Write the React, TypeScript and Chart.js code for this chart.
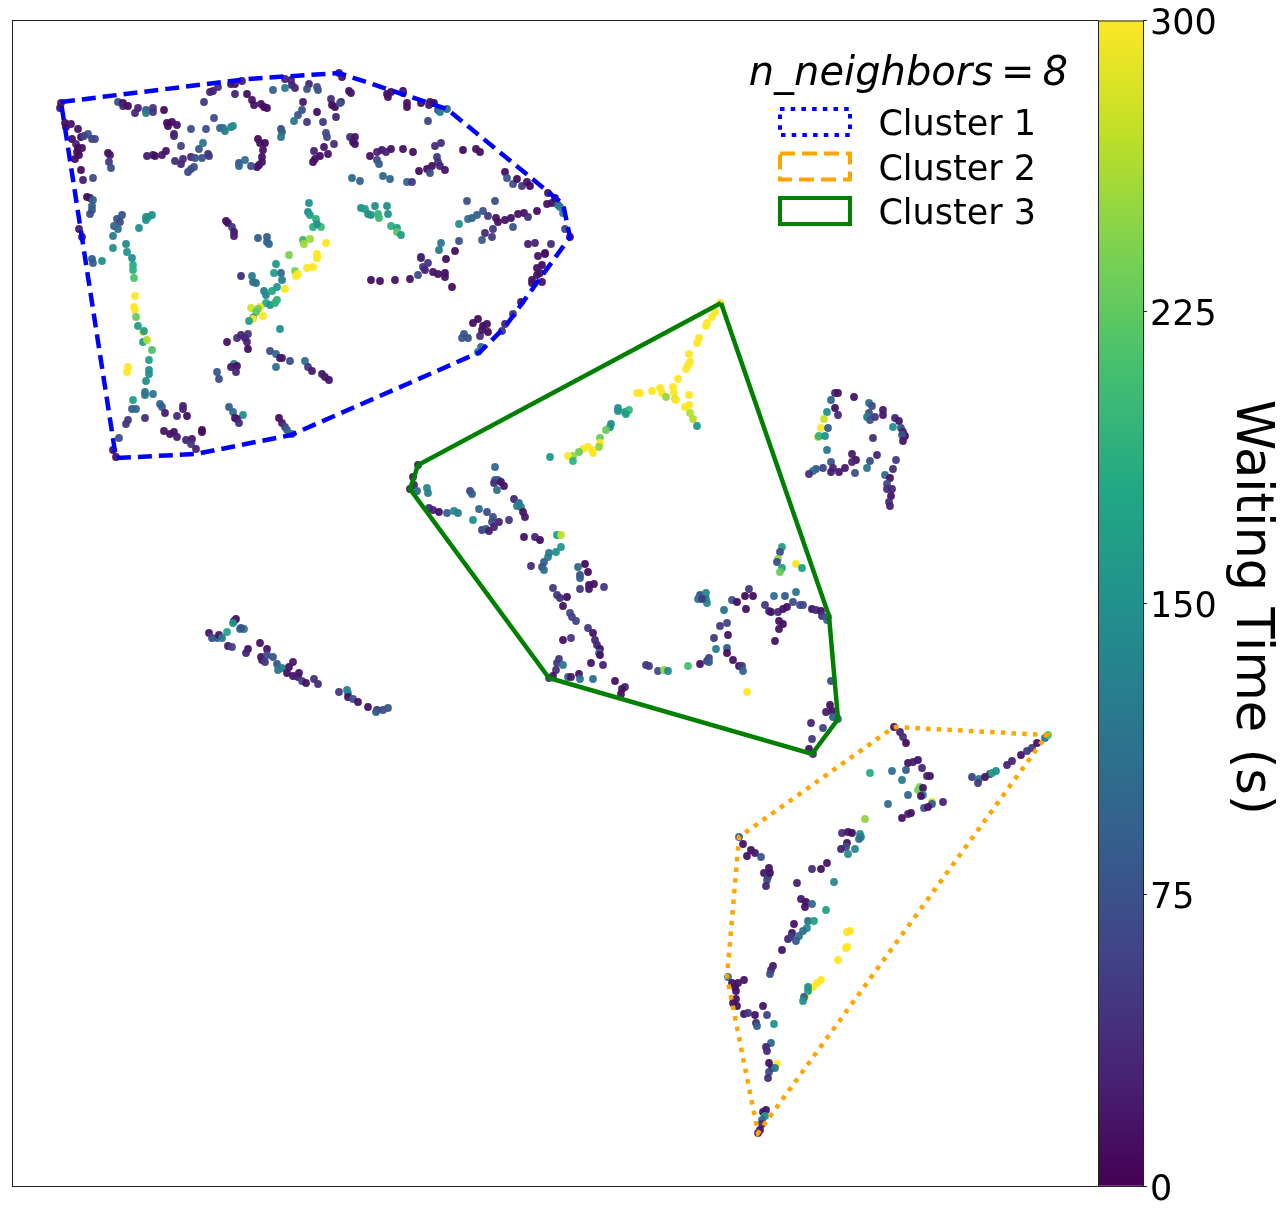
import React, { useEffect, useRef } from "react";
import { Chart, registerables } from "chart.js";

Chart.register(...registerables);

// Each entry: [embedding x, embedding y, waiting time in seconds]
const cluster1TopLeft = [
  [61,103,15],[60,108,15],[118,102,70],[123,103,10],[123,106,30],[128,106,10],[138,108,30],[135,113,35],[146,110,80],[146,113,130],[153,108,50],[153,112,45],[164,110,10],[167,123,10],[172,122,10],[168,126,10],[177,125,20],[174,134,30],[174,136,35],[191,129,75],[206,129,75],[214,118,70],[204,102,50],[210,92,30],[213,91,30],[218,87,40],[231,84,10],[235,84,15],[242,81,25],[235,94,30],[247,94,10],[252,100,15],[254,105,15],[261,104,15],[264,107,10],[267,108,10],[273,90,90],[285,88,130],[285,79,30],[291,80,30],[292,85,30],[295,88,35],[303,102,20],[307,122,50],[302,110,75],[298,115,80],[294,121,120],[281,129,70],[282,132,90],[281,137,120],
  [65,123,10],[66,127,10],[71,124,15],[78,129,15],[72,139,10],[81,137,10],[88,134,85],[84,136,60],[92,139,60],[95,139,70],[76,144,30],[78,148,10],[82,148,15],[79,155,10],[75,159,10],[77,152,10],[108,153,10],[110,155,20],[109,162,50],[111,168,70],[81,170,10],[83,180,25],[93,178,70],[87,197,10],[90,198,15],[93,200,100],[92,206,90],[92,210,90],[90,214,70],[79,229,20],[82,237,20],
  [147,156,25],[153,155,25],[155,156,15],[162,155,20],[166,151,15],[181,146,60],[175,161,40],[181,164,30],[183,159,35],[191,157,30],[195,158,75],[199,149,80],[203,143,120],[202,158,80],[208,154,50],[209,156,50],[194,167,75],[191,169,75],[188,172,70],
  [220,128,100],[223,128,110],[225,131,130],[231,127,140],[233,126,145],[258,139,10],[260,143,15],[265,143,10],[263,150,15],[262,157,15],[262,162,15],[257,167,10],[259,165,15],[251,166,70],[239,163,80],[239,166,100],[245,160,110],
  [226,221,15],[228,223,15],[232,227,50],[234,232,20],[234,236,25],[258,238,90],[267,237,90],[267,242,90],[269,244,100],[122,215,70],[117,219,80],[120,222,70],[114,226,100],[118,229,110],[113,236,130],[126,244,140],[113,248,150],[127,252,155],[132,258,150],[92,259,90],[102,261,150],[146,217,155],[148,217,160],[152,215,150],[146,220,150],[139,228,150],
];

const cluster1TopRight = [
  [339,73,30],[342,77,15],[309,84,35],[317,87,70],[307,89,75],[318,90,80],[349,91,15],[351,93,20],[387,94,15],[391,92,10],[388,97,15],[403,91,10],[403,93,35],[407,103,15],[407,107,15],[421,103,10],[430,102,15],[429,105,25],[434,103,10],[438,110,60],[440,112,130],[447,109,100],[428,121,60],
  [331,99,40],[332,105,10],[335,107,10],[341,102,20],[340,103,80],[317,112,10],[336,117,30],[323,122,50],[326,133,70],[327,137,70],[334,144,40],[324,147,20],[314,151,30],[328,154,15],[320,156,10],[315,159,15],[313,162,10],[350,137,40],[355,137,15],[353,142,15],[355,144,15],
  [370,156,15],[377,152,30],[382,150,20],[386,152,30],[391,149,15],[403,149,15],[413,152,10],[377,160,70],[379,164,85],[352,178,100],[360,181,100],[383,176,100],[390,179,100],[407,182,100],[412,182,50],[435,146,40],[441,143,40],[463,150,10],[476,149,15],[480,152,10],[437,157,50],[438,162,45],[440,166,30],[432,166,15],[427,169,15],[419,171,10],[445,170,15],[430,173,70],
  [505,172,10],[507,178,80],[513,184,75],[517,179,10],[522,186,50],[527,182,15],[530,186,10],[548,193,15],[547,204,15],[552,203,10],[555,198,10],[558,205,90],[563,213,130],[565,229,60],[570,237,15],[560,207,130],[467,201,75],[495,201,75],[483,211,80],[477,215,90],[468,219,110],[472,218,100],[459,224,145],[488,216,50],[496,218,15],[498,222,15],[505,220,15],[511,218,15],[518,214,15],[524,213,15],[528,217,40],[537,211,10],[513,227,80],
  [485,233,35],[493,229,50],[492,237,50],[482,240,90],[459,241,75],[441,243,120],[439,250,120],[455,251,10],[421,257,30],[446,259,10],[528,244,25],[535,243,30],[551,244,40],[545,254,15],[538,256,15],
  [309,203,150],[308,212,140],[310,215,170],[316,219,190],[313,227,190],[321,227,205],[317,224,150],[303,240,200],[310,239,255],[304,244,255],[326,243,300],[317,254,300],[317,258,300],[361,208,150],[365,209,165],[368,214,150],[371,215,155],[375,206,150],[387,206,150],[388,214,150],[378,214,195],[379,218,205],[391,226,190],[397,228,165],[397,232,225],[401,235,165],
  [371,280,10],[380,281,15],[395,280,15],[410,279,15],[418,275,70],[421,258,30],[423,267,50],[428,263,50],[425,270,30],[433,272,15],[438,274,15],[445,273,10],[445,277,15],[452,287,10],
  [521,302,15],[513,314,50],[545,253,15],[542,265,10],[537,268,15],[537,275,15],[532,280,15],[532,283,15],[542,282,15],[540,273,15],[473,323,10],[478,319,10],[483,326,10],[487,324,15],[488,332,10],[480,336,40],[482,330,15],[464,334,80],[462,338,80],[468,338,75],[481,347,100],[478,352,130],[505,324,30],[502,331,50],
];

const cluster1Bottom = [
  [93,263,90],[133,265,185],[133,270,190],[134,278,215],[135,296,300],[134,307,300],[135,310,300],[136,317,230],[138,326,165],[143,332,290],[144,331,165],[143,342,170],[147,340,265],[152,350,215],[149,360,170],[149,370,150],[149,374,150],[146,381,145],[145,392,120],[145,395,120],[153,394,120],[128,367,300],[127,372,300],
  [133,400,170],[132,409,90],[136,409,100],[128,420,50],[126,424,50],[145,418,40],[160,404,100],[162,407,90],[165,413,25],[183,406,30],[183,409,30],[177,416,40],[187,416,10],[164,431,15],[170,434,15],[174,432,15],[177,437,25],[186,440,30],[192,439,20],[191,444,50],[196,449,30],[202,430,10],[202,432,10],[119,438,70],[113,450,10],[116,457,15],
  [241,276,40],[252,276,125],[253,282,110],[256,283,110],[264,291,130],[266,295,140],[272,291,180],[277,287,160],[276,264,160],[274,273,165],[281,273,100],[282,280,130],[289,255,240],[295,271,240],[296,276,300],[298,274,300],[285,289,300],[307,268,300],[313,267,300],[317,258,300],
  [266,303,185],[270,305,160],[275,303,190],[277,300,190],[251,308,280],[260,307,290],[258,309,240],[256,312,225],[263,316,300],[253,318,120],[253,319,300],[249,321,170],[280,329,150],[227,342,15],[237,338,40],[241,335,30],[248,334,50],[245,338,30],[247,342,30],[248,349,10],
  [270,351,70],[276,354,100],[280,358,20],[282,358,20],[290,361,70],[276,367,110],[305,361,110],[308,367,50],[312,371,20],[322,374,20],[325,377,20],[329,380,15],[234,364,130],[231,367,20],[237,366,15],[236,372,30],[217,372,80],[219,379,70],
  [229,407,90],[233,412,110],[243,415,150],[235,418,10],[237,419,20],[239,423,35],[279,418,10],[282,423,20],[285,427,60],[287,430,90],[292,434,100],
];

const cluster3Upper = [
  [720,303,300],[715,312,300],[712,317,300],[707,323,300],[706,326,300],[699,338,300],[697,343,300],[689,354,300],[690,362,300],[688,365,300],[686,369,300],[678,379,300],[673,387,300],[674,393,300],[675,399,280],[676,400,300],[689,395,300],[689,405,300],[685,407,300],[690,413,265],[693,419,265],[697,426,160],
  [637,393,300],[640,393,300],[652,391,300],[660,388,300],[662,393,300],[666,397,250],[618,411,150],[618,408,150],[625,412,165],[629,410,200],[626,414,165],[611,424,150],[610,427,150],[606,430,230],[600,438,230],[600,443,300],[599,447,250],[588,447,300],[592,450,300],[593,453,300],[583,449,300],[579,452,230],[573,456,250],[568,456,300],[573,461,195],[550,457,160],
  [418,465,15],[413,477,15],[414,485,30],[410,489,15],[417,491,100],[427,488,140],[428,493,130],[495,467,100],[495,480,90],[498,480,90],[494,483,40],[501,482,15],[504,486,15],[497,490,110],[470,491,60],[472,494,90],[514,499,30],[519,503,110],[517,506,130],[521,507,130],[523,512,15],[525,517,20],
  [429,508,40],[433,510,30],[439,512,15],[447,513,90],[454,511,140],[458,513,130],[479,509,100],[487,512,70],[473,520,150],[493,517,70],[492,522,70],[499,522,30],[509,520,50],[482,530,50],[486,529,90],[489,531,25],[494,527,30],[524,537,15],[535,537,30],[540,540,10],[557,535,160],[561,535,270],[561,547,160],
];

const cluster3Lower = [
  [556,552,150],[549,553,120],[548,557,130],[544,562,90],[531,566,40],[542,567,70],[544,570,110],[578,567,100],[585,564,10],[588,572,10],[580,575,70],[580,578,90],[589,585,15],[594,584,15],[589,589,20],[580,589,50],[604,587,50],
  [553,588,50],[557,595,50],[560,598,40],[567,597,10],[563,606,15],[570,613,70],[572,617,60],[576,621,60],[588,628,50],[593,633,15],[595,640,35],[597,645,30],[600,649,15],[599,653,120],[600,655,15],[563,640,15],[571,638,50],
  [559,659,50],[557,663,50],[563,665,120],[556,670,40],[553,676,15],[549,678,40],[568,677,90],[571,677,20],[579,674,15],[580,679,110],[591,663,15],[603,665,30],[593,679,110],[615,681,15],[625,687,30],[622,689,15],[621,694,15],
  [646,665,50],[649,666,50],[658,671,70],[664,670,250],[668,671,140],[688,666,210],[700,664,15],[707,661,50],[709,658,60],[709,662,90],[716,649,130],[727,648,90],[727,653,10],[733,660,15],[739,666,15],[742,666,50],[743,671,100],[747,692,300],
  [714,638,50],[728,635,15],[720,626,50],[727,623,60],[724,610,110],[700,595,70],[706,593,140],[698,599,120],[706,599,130],[707,603,140],[702,599,50],[732,600,70],[737,602,10],[746,609,10],[745,596,10],[749,589,50],[753,596,10],
  [765,605,50],[769,611,40],[771,612,15],[774,596,110],[785,596,85],[796,592,120],[793,602,70],[800,605,70],[803,605,70],[778,612,40],[783,609,15],[787,607,15],[779,621,15],[783,624,15],[779,629,15],[775,641,15],[812,609,15],[816,610,40],[821,611,15],[822,616,50],[827,620,100],[828,617,90],
  [782,547,170],[780,552,70],[778,559,250],[777,562,70],[796,564,300],[802,568,170],[782,568,170],[780,572,230],
  [831,681,70],[830,705,15],[832,711,15],[826,712,25],[833,717,90],[838,719,100],[811,723,30],[823,728,60],[812,739,50],[809,749,15],[813,754,40],
];

const rightGroup = [
  [835,393,30],[838,393,15],[854,397,15],[831,400,100],[835,408,15],[827,412,150],[838,415,35],[824,419,275],[821,428,300],[828,428,90],[818,437,260],[819,436,195],[825,436,150],[827,450,120],
  [869,403,110],[872,406,70],[869,413,70],[867,417,130],[870,420,80],[875,417,50],[883,410,20],[883,415,20],[895,418,30],[899,421,20],[893,427,150],[901,428,75],[903,432,20],[905,436,10],[902,435,80],[903,441,20],[873,438,40],
  [852,454,20],[856,460,15],[852,462,30],[877,455,30],[870,461,70],[896,460,50],[867,468,120],[831,462,80],[816,469,80],[823,468,60],[833,468,30],[831,472,25],[839,472,20],[845,468,20],[855,473,70],[813,471,110],[809,474,40],
  [893,469,40],[885,475,110],[890,478,15],[887,484,70],[887,489,40],[892,489,30],[891,496,15],[889,502,40],[890,506,30],
];

const lowerLeftGroup = [
  [236,619,15],[234,621,25],[233,623,150],[227,632,175],[240,629,130],[244,629,120],[241,628,75],[209,633,20],[212,638,70],[217,638,90],[219,635,20],[222,638,120],[228,646,20],[232,647,60],[248,649,15],[246,653,30],[260,643,15],[267,649,15],[261,657,20],[262,660,25],[267,655,70],[265,662,50],[273,657,80],[277,664,80],[278,670,120],[282,668,130],[289,667,15],[293,662,20],[287,673,15],[293,676,15],[299,673,15],[298,677,25],[302,681,60],[306,683,15],[314,679,40],[318,684,40],
  [339,692,50],[347,690,130],[348,693,140],[348,697,15],[353,699,75],[358,702,15],[368,707,15],[377,710,40],[376,712,90],[383,710,70],[388,708,80],
];

const cluster2Upper = [
  [894,727,15],[900,732,30],[903,737,40],[906,743,10],[908,763,15],[913,762,25],[918,760,15],[922,768,35],[927,776,30],[930,776,20],[892,771,110],[906,770,90],[870,773,185],[902,780,125],[920,787,240],[918,790,240],[923,788,15],[923,795,150],[921,796,15],[908,795,100],[888,804,110],[932,802,280],[932,804,90],[943,802,30],[924,808,80],[928,807,15],[902,818,15],[908,814,30],[911,813,15],[865,819,250],
  [972,777,60],[979,779,120],[978,783,50],[985,777,15],[990,774,25],[992,773,180],[996,771,150],[1007,765,30],[1012,761,30],[1021,755,15],[1027,751,50],[1032,748,50],[1037,743,15],[1045,738,120],[1048,735,210],
  [842,833,40],[848,832,15],[852,833,10],[860,834,150],[861,837,130],[859,839,110],[847,843,15],[846,847,70],[841,849,30],[855,849,140],[848,854,145],
  [739,837,90],[743,844,15],[751,850,15],[755,853,20],[761,857,80],[747,856,15],[827,863,15],[821,869,15],[812,869,40],[769,868,15],[764,873,20],[768,877,60],[767,880,70],[770,873,15],[766,886,30],[797,883,25],[834,882,140],[826,910,170],[801,899,20],[806,902,15],[812,904,100],[805,907,15],
];

const cluster2Lower = [
  [808,921,110],[814,921,170],[807,928,150],[803,931,110],[794,924,15],[792,933,15],[788,939,30],[791,937,50],[799,936,110],[796,941,90],[782,950,15],[850,931,300],[847,932,300],[847,947,300],[846,948,300],[838,960,300],[773,966,20],[771,970,30],[770,974,70],
  [821,980,300],[817,983,300],[813,987,300],[808,987,150],[808,991,160],[805,997,280],[804,997,90],[803,1001,150],[728,977,110],[732,983,15],[738,983,15],[744,980,15],[735,987,15],[736,991,15],[736,999,15],[733,1003,15],[737,1006,15],
  [763,1006,15],[744,1014,15],[748,1013,50],[755,1015,15],[767,1015,60],[756,1023,30],[757,1026,90],[774,1024,150],[771,1043,100],[766,1047,30],[767,1051,40],[769,1063,15],[772,1068,15],[777,1064,300],[775,1068,130],[769,1072,70],[768,1078,40],[766,1110,15],[763,1112,15],[765,1116,155],[762,1120,100],[762,1124,40],[760,1130,15],[758,1133,30],
];

const hull1X = [61,247,339,447,563,570,505,480,291,196,116,61];
const hull1Y = [102,79,73,109,204,237,327,352,435,454,458,102];
const hull2X = [894,1047,758,727,739,894];
const hull2Y = [727,735,1133,977,837,727];
const hull3X = [721,829,838,812,549,410,418,721];
const hull3Y = [303,616,719,754,678,489,465,303];

const clusterNames = ["Cluster 1", "Cluster 2", "Cluster 3"];
const clusterColors = ["#0000ff", "#ffa500", "#008000"];
const legendTitle = "n_neighbors\u2009=\u20098";
const colorbarTicks = [0, 75, 150, 225, 300];
const colorbarLabel = "Waiting Time (s)";
const viridisStops = ["#440154","#482475","#414487","#355f8d","#2a788e","#21918c","#22a884","#44bf70","#7ad151","#bddf26","#fde725"];

const FONT = "'DejaVu Sans'";
const MAX_WAIT = 300;

function hexToRgb(h: string) {
  return [1, 3, 5].map((i) => parseInt(h.slice(i, i + 2), 16));
}
function viridis(v: number, alpha = 0.95) {
  const t = Math.min(1, Math.max(0, v / MAX_WAIT)) * (viridisStops.length - 1);
  const i = Math.min(viridisStops.length - 2, Math.floor(t));
  const a = hexToRgb(viridisStops[i]);
  const b = hexToRgb(viridisStops[i + 1]);
  const f = t - i;
  const c = a.map((x, k) => Math.round(x + (b[k] - x) * f));
  return `rgba(${c[0]},${c[1]},${c[2]},${alpha})`;
}

const pointGroups = [cluster1TopLeft, cluster1TopRight, cluster1Bottom, cluster3Upper, cluster3Lower, rightGroup, lowerLeftGroup, cluster2Upper, cluster2Lower];

const hullDataset = (xs: number[], ys: number[], color: string, dash: number[], label: string) => ({
  type: "scatter",
  label,
  data: xs.map((x, i) => ({ x, y: ys[i] })),
  showLine: true,
  fill: false,
  borderColor: color,
  borderWidth: 4.5,
  borderDash: dash,
  borderCapStyle: "butt",
  borderJoinStyle: "miter",
  tension: 0,
  pointRadius: 0,
  order: 0,
});

const framePlugin = {
  id: "frame",
  afterDraw(chart: any) {
    const { ctx, chartArea: a } = chart;
    ctx.save();
    ctx.strokeStyle = "#222";
    ctx.lineWidth = 1;
    ctx.strokeRect(a.left + 0.5, a.top + 0.5, a.right - a.left, a.bottom - a.top);
    ctx.restore();
  },
};

// Places the legend inside the plot, unclipped, with its text sitting a little
// below the geometric centre of the boxes as in the reference.
const legendPlacement = {
  id: "legendPlacement",
  afterLayout(chart: any) {
    const l = chart.legend;
    l.left = 770.5;
    l.width = 297.5;
    l.right = 1036;
    l.top = 48;
    l.draw = () => {
      const ctx = chart.ctx;
      const original = ctx.fillText;
      ctx.fillText = function (text: string, x: number, y: number, m?: number) {
        return m === undefined ? original.call(ctx, text, x, y + 4) : original.call(ctx, text, x, y + 4, m);
      };
      l._draw();
      delete ctx.fillText;
    };
  },
};

const TICK_LABEL_DROP = 4.5;
const AXIS_TITLE_DROP = 4;

export default function App() {
  const mainRef = useRef<HTMLCanvasElement>(null);
  const barRef = useRef<HTMLCanvasElement>(null);

  useEffect(() => {
    const main = new Chart(mainRef.current as any, {
      type: "scatter",
      data: {
        datasets: [
          hullDataset(hull1X, hull1Y, clusterColors[0], [14, 7], clusterNames[0]),
          hullDataset(hull2X, hull2Y, clusterColors[1], [4.5, 6.2], clusterNames[1]),
          hullDataset(hull3X, hull3Y, clusterColors[2], [], clusterNames[2]),
          ...pointGroups.map((g, i) => ({
            label: `group ${i + 1}`,
            data: g.map((p) => ({ x: p[0], y: p[1] })),
            showLine: false,
            pointRadius: 3.9,
            pointBorderWidth: 0,
            pointBackgroundColor: g.map((p) => viridis(p[2])),
            order: 1,
          })),
        ],
      } as any,
      options: {
        responsive: false,
        animation: false,
        layout: { padding: { left: 12, right: 185, top: 20, bottom: 28 } },
        scales: {
          x: { type: "linear", display: false, min: 12, max: 1098 },
          y: { type: "linear", display: false, min: 20, max: 1186, reverse: true },
        },
        plugins: {
          tooltip: { enabled: false },
          legend: {
            display: true,
            position: "chartArea",
            align: "start",
            title: {
              display: true,
              text: legendTitle,
              position: "end",
              color: "#000",
              padding: { top: 3, bottom: -2 },
              font: { family: FONT, size: 40, style: "italic", lineHeight: 1.15 },
            },
            labels: {
              color: "#000",
              boxWidth: 70,
              boxHeight: 26,
              padding: 9.5,
              textAlign: "right",
              font: { family: FONT, size: 35 },
              generateLabels: () =>
                clusterNames.map((text, i) => ({
                  text,
                  fillStyle: "#ffffff",
                  strokeStyle: clusterColors[i],
                  lineWidth: 4,
                  lineDash: i === 0 ? [4.5, 6.2] : i === 1 ? [15, 7] : [],
                  lineCap: "butt",
                  lineJoin: "miter",
                  fontColor: "#000",
                  datasetIndex: i,
                })),
            },
          },
        },
      } as any,
      plugins: [framePlugin, legendPlacement],
    });

    const bar = new Chart(barRef.current as any, {
      type: "bar",
      data: {
        labels: [colorbarLabel],
        datasets: [
          {
            data: [[colorbarTicks[0], colorbarTicks[colorbarTicks.length - 1]]],
            barPercentage: 1,
            categoryPercentage: 1,
            borderWidth: 0,
            backgroundColor: (c: any) => {
              const area = c.chart.chartArea;
              if (!area) return viridisStops[5];
              const g = c.chart.ctx.createLinearGradient(0, area.bottom, 0, area.top);
              viridisStops.forEach((s, i) => g.addColorStop(i / (viridisStops.length - 1), s));
              return g;
            },
          },
        ],
      } as any,
      options: {
        responsive: false,
        animation: false,
        layout: { padding: { left: 1098, right: 0, top: 20, bottom: 28 } },
        scales: {
          x: { display: false },
          y: {
            position: "right",
            min: colorbarTicks[0],
            max: colorbarTicks[colorbarTicks.length - 1],
            afterFit: (s: any) => {
              s.width = 140;
              if (!s.__adjusted) {
                s.__adjusted = true;
                const compute = s._computeLabelItems;
                s._computeLabelItems = function (area: any) {
                  return compute.call(this, area).map((it: any) => ({ ...it, textOffset: it.textOffset + TICK_LABEL_DROP }));
                };
                const drawTitle = s.drawTitle;
                s.drawTitle = function () {
                  this.ctx.save();
                  this.ctx.translate(0, AXIS_TITLE_DROP);
                  drawTitle.call(this);
                  this.ctx.restore();
                };
              }
            },
            afterBuildTicks: (s: any) => {
              s.ticks = colorbarTicks.map((value) => ({ value }));
            },
            grid: { drawOnChartArea: false, drawTicks: true, tickLength: 4, color: "#222", lineWidth: 1 },
            border: { display: false },
            ticks: {
              color: "#000",
              padding: 3,
              autoSkip: false,
              maxRotation: 0,
              font: { family: FONT, size: 35, lineHeight: 1 },
            },
            title: {
              display: true,
              text: colorbarLabel,
              color: "#000",
              padding: { top: 2, bottom: 0 },
              font: { family: FONT, size: 51, lineHeight: 1.2 },
            },
          },
        },
        plugins: { legend: { display: false }, tooltip: { enabled: false } },
      } as any,
      plugins: [framePlugin],
    });

    return () => {
      main.destroy();
      bar.destroy();
    };
  }, []);

  const canvasStyle: React.CSSProperties = { position: "absolute", left: 0, top: 0 };
  return (
    <div style={{ position: "absolute", left: 0, top: 0, width: 1283, height: 1214, overflow: "hidden", background: "#fff" }}>
      <canvas ref={mainRef} width={1283} height={1214} style={canvasStyle} />
      <canvas ref={barRef} width={1283} height={1214} style={canvasStyle} />
    </div>
  );
}
